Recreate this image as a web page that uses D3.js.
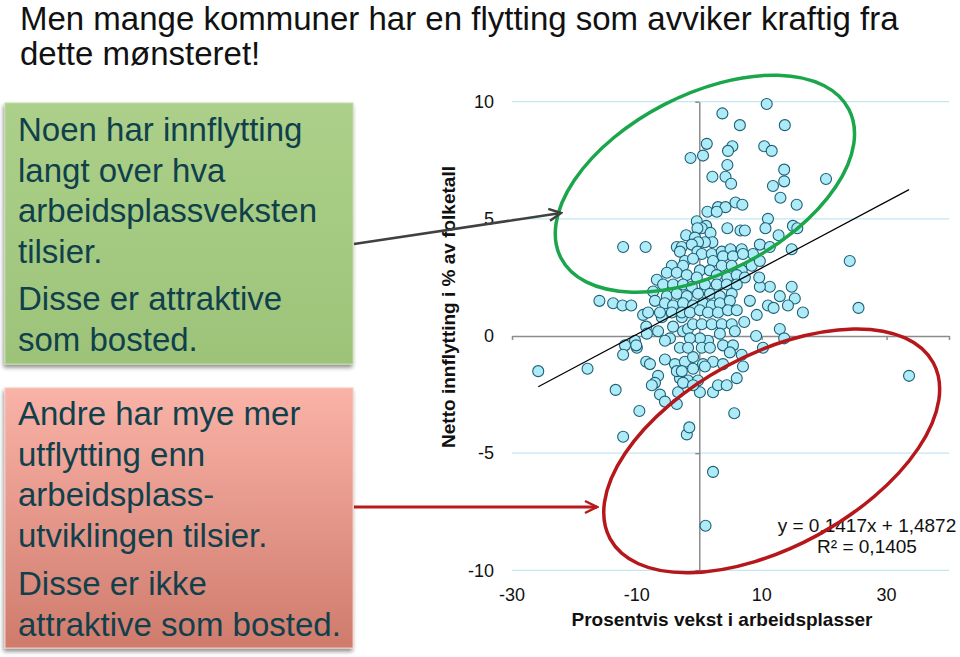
<!DOCTYPE html>
<html lang="no">
<head>
<meta charset="utf-8">
<title>Netto innflytting og arbeidsplassvekst</title>
<script src="https://cdnjs.cloudflare.com/ajax/libs/d3/7.8.5/d3.min.js"></script>
<style>
  body { margin: 0; background: #fff; }
  svg { display: block; font-family: "Liberation Sans", Arial, Helvetica, sans-serif; }
</style>
</head>
<body>
<script>

// --- data ---

// prosentvis vekst i arbeidsplasser (x) per kommune
var growthPct = [
  10.8, 3.7, 6.5, 13.7, 1.2, 5.3, 4.6, 10.4, 11.6, -1.4, 0.6, 4.5, 13.6, 2.1, 4.2, 5.1, 13.6, 11.8, 13.0, 5.8,
  6.9, 3.0, 4.2, 1.3, 2.8, 20.3, 15.6, 15.0, 15.7, 14.8, 24.1, 14.8, 11.0, 10.6, 4.5, 6.6, 7.3, 12.7, 9.7, 11.3,
  25.5, 15.3, 14.2, 16.6, 12.9, 12.9, 13.6, 33.6, 11.0, 11.9, 11.3, 9.7, 9.6, 8.1, 9.2, 9.1, 10.2, 7.2,
  -12.2, -8.6, -16.0, -13.8, -12.3, -10.9, -9.0, -8.5, -10.3, -11.9, -10.0, -10.1, -12.2, -25.8, -17.9, -8.5,
  -13.4, -9.6, -12.2, -2.0, -1.6, 2.2, 1.0, 5.6, -7.9, -6.6, -7.1, -7.6, -6.3, -5.5, -3.6, -3.4, 0.1, 2.2,
  3.0, 4.4, 6.0, -3.1, -1.8, -0.2, -2.6, -1.0, 7.0, 6.8, -5.5, -3.9, -2.3, -1.0, 0.6, 2.2, 3.8, -3.6, -2.8,
  -1.0, 0.9, -8.4, -6.6, -4.7, -4.2, -2.6, -1.8, -1.0, 0.4, 2.0, 3.6, 5.2, -2.8, -6.0, 5.7, 3.3, 1.4, 0.1,
  -1.5, -3.1, -1.8, 0.4, 1.7, 3.8, 5.4, 4.9, -5.5, -0.4, 1.1, 0.4, -0.3, 1.8, -2.1, -0.7, 2.1, 0.9, -0.2,
  -3.6, -2.8, -1.2, -3.1, -0.3, 0.4, 2.0, 3.6, 5.0, 6.8, 8.6, -2.3, -1.0, 2.2, 3.8, 5.4, 7.0, -4.4, -2.6,
  0.1, 1.7, 3.6, 5.2, 6.8, 8.4, 9.7, -5.2, -3.6, -2.0, -0.4, 2.8, 4.5, 6.0, 7.3, -6.8, -5.8, -4.2, -2.6,
  -1.2, 0.9, 2.8, 4.4, 6.0, -7.4, -5.2, -3.6, -2.0, -0.2, 1.7, 3.3, 5.2, -7.1, -5.5, -4.2, -2.6, -1.0, 0.6,
  2.0, 3.3, 4.9, -8.2, -6.3, -4.4, -2.8, -1.5, 0.1, 1.4, 3.0, 4.6, 6.0
];

// netto innflytting i % av folketall (y), same order
var netMigration = [
  9.9, 9.5, 9.0, 9.0, 8.2, 8.1, 7.9, 8.1, 7.9, 7.6, 7.7, 7.3, 7.1, 6.8, 6.8, 6.5, 6.6, 6.4, 5.9, 5.7,
  5.6, 5.5, 5.5, 5.3, 5.3, 6.7, 5.6, 4.7, 4.6, 3.7, 3.2, 2.1, 5.0, 4.6, 4.6, 4.5, 4.5, 4.3, 3.9, 3.8,
  1.2, 1.6, 1.3, 1.0, 1.7, 0.3, -0.1, -1.7, 1.3, 1.2, 2.1, 2.1, 2.5, 1.5, 0.9, 0.0, -0.5, 0.6,
  3.8, 3.8, 1.5, 1.4, 1.3, 1.3, 0.9, 0.4, -0.2, -0.4, -0.5, -0.4, -0.8, -1.5, -1.4, -1.1,
  -2.3, -3.2, -4.3, -4.2, -3.9, -5.8, -8.1, -3.3, -1.2, -1.7, -2.0, -2.1, -2.5, -2.8, -2.9, -2.4, -2.4, -2.4,
  -2.1, -2.1, -1.8, -1.8, -1.9, -1.9, -2.0, -2.1, -1.3, -0.8, -1.0, -1.2, -1.1, -0.9, -1.2, -1.1, -1.2, -1.5, -1.5,
  -1.4, -1.3, 0.1, 0.2, -0.1, 0.4, 0.2, 0.3, 0.5, 0.5, 0.5, 0.5, 0.5, 0.8, 0.8, 0.2, 0.1, -0.2, -0.1,
  -0.1, -0.5, -0.5, -0.5, -0.5, -0.4, -0.4, -0.7, -0.2, 4.9, 4.7, 4.6, 4.6, 4.4, 4.3, 4.2, 4.0, 4.0, 4.0,
  3.8, 3.8, 3.9, 3.6, 3.6, 3.5, 3.5, 3.6, 3.7, 3.7, 3.5, 3.2, 3.3, 3.2, 3.4, 3.4, 3.5, 3.0, 3.0,
  2.8, 2.8, 3.0, 3.0, 2.8, 3.0, 3.2, 2.7, 2.7, 2.6, 2.5, 2.6, 2.5, 2.6, 2.5, 2.4, 2.2, 2.2, 2.2,
  2.1, 2.2, 2.2, 2.2, 2.2, 1.9, 1.7, 1.8, 1.7, 1.8, 1.8, 1.7, 1.8, 1.5, 1.4, 1.3, 1.4, 1.3, 1.4,
  1.3, 1.4, 1.5, 1.0, 1.0, 1.0, 1.0, 1.0, 1.1, 1.0, 1.0, 1.1, 1.1
];

var xTicks = [-30, -10, 10, 30];
var yTicks = [-10, -5, 0, 5, 10];
var trendSlope = 0.1417, trendIntercept = 1.4872;
var trendLabels = ["y = 0,1417x + 1,4872", "R\u00B2 = 0,1405"];

var titleLines = ["Men mange kommuner har en flytting som avviker kraftig fra", "dette m\u00F8nsteret!"];
var greenLines = [["Noen har innflytting", "langt over hva", "arbeidsplassveksten", "tilsier."], ["Disse er attraktive", "som bosted."]];
var redLines = [["Andre har mye mer", "utflytting enn", "arbeidsplass-", "utviklingen tilsier."], ["Disse er ikke", "attraktive som bosted."]];


//
// Setup
//
var svg = d3.select("body")
  .append("svg")
  .attr("width", 960)
  .attr("height", 657);

var defs = svg.append("defs");

var shadow = defs.append("filter").attr("id", "shadow")
  .attr("x", "-10%").attr("y", "-10%").attr("width", "120%").attr("height", "125%");
shadow.append("feDropShadow")
  .attr("dx", -1).attr("dy", 3).attr("stdDeviation", 2)
  .attr("flood-color", "#000").attr("flood-opacity", 0.45);

var addGradient = function(id, top, bottom) {
  var g = defs.append("linearGradient").attr("id", id)
    .attr("x1", 0).attr("y1", 0).attr("x2", 0).attr("y2", 1);
  g.append("stop").attr("offset", "0%").attr("stop-color", top);
  g.append("stop").attr("offset", "100%").attr("stop-color", bottom);
};
addGradient("greenFill", "#acd089", "#9dc379");
addGradient("redFill", "#fab3a7", "#cf7b6c");

var addMarker = function(id, color) {
  defs.append("marker").attr("id", id)
    .attr("markerUnits", "userSpaceOnUse")
    .attr("viewBox", "0 0 16 16")
    .attr("markerWidth", 16).attr("markerHeight", 16)
    .attr("refX", 14).attr("refY", 8)
    .attr("orient", "auto")
    .append("path")
    .attr("d", "M2,2 L14,8 L2,14")
    .attr("fill", "none")
    .attr("stroke", color)
    .attr("stroke-width", 2.5);
};
addMarker("arrowGray", "#404040");
addMarker("arrowRed", "#b71c1c");

var x = d3.scaleLinear().domain([-30, 40]).range([512, 949]);
var y = d3.scaleLinear().domain([-10, 10]).range([570.3, 101.7]);


//
// Title
//
svg.append("g").selectAll("text")
  .data(titleLines)
  .enter()
  .append("text")
  .attr("x", 20)
  .attr("y", function(d, i) { return 30 + i * 35; })
  .attr("font-size", 33)
  .attr("fill", "#111")
  .text(function(d) { return d; });


//
// Chart
//
var plot = svg.append("g");

// gridlines
plot.selectAll("line.grid")
  .data(yTicks.filter(function(d) { return d !== 0; }))
  .enter()
  .append("line")
  .attr("class", "grid")
  .attr("x1", x(-30)).attr("x2", x(40))
  .attr("y1", function(d) { return y(d); })
  .attr("y2", function(d) { return y(d); })
  .attr("stroke", "#c3e7f1")
  .attr("stroke-width", 1.2);

// axes crossing at 0
var yAxis = plot.append("g")
  .attr("transform", "translate(" + x(0) + ",0)")
  .call(d3.axisLeft(y).tickValues(yTicks).tickSize(4).tickSizeOuter(0).tickFormat(""));
var xAxis = plot.append("g")
  .attr("transform", "translate(0," + y(0) + ")")
  .call(d3.axisBottom(x).tickValues(xTicks.concat([40])).tickSize(4).tickSizeOuter(0).tickFormat(""));
[yAxis, xAxis].forEach(function(a) {
  a.selectAll("path, line").attr("stroke", "#8c8c8c").attr("stroke-width", 1.5);
});

// tick labels (placed low / left as in the original)
plot.selectAll("text.ylab")
  .data(yTicks)
  .enter()
  .append("text")
  .attr("x", 494)
  .attr("y", function(d) { return y(d); })
  .attr("dy", "0.35em")
  .attr("text-anchor", "end")
  .attr("font-size", 18)
  .attr("fill", "#111")
  .text(function(d) { return String(d); });

plot.selectAll("text.xlab")
  .data(xTicks)
  .enter()
  .append("text")
  .attr("x", function(d) { return x(d); })
  .attr("y", 601)
  .attr("text-anchor", "middle")
  .attr("font-size", 18)
  .attr("fill", "#111")
  .text(function(d) { return String(d); });

// axis titles
plot.append("text")
  .attr("x", 722).attr("y", 626)
  .attr("text-anchor", "middle")
  .attr("font-size", 19).attr("font-weight", "bold")
  .attr("fill", "#111")
  .text("Prosentvis vekst i arbeidsplasser");

plot.append("text")
  .attr("transform", "translate(455,307) rotate(-90)")
  .attr("text-anchor", "middle")
  .attr("font-size", 19).attr("font-weight", "bold")
  .attr("fill", "#111")
  .text("Netto innflytting i % av folketall");

// points
var points = d3.range(growthPct.length).map(function(i) {
  return { x: growthPct[i], y: netMigration[i] };
});

plot.selectAll("circle")
  .data(points)
  .enter()
  .append("circle")
  .attr("cx", function(d) { return x(d.x); })
  .attr("cy", function(d) { return y(d.y); })
  .attr("r", 5.5)
  .attr("fill", "#aeebf8")
  .attr("stroke", "#1d5f74")
  .attr("stroke-width", 1.1);

// linear trend
var xExt = d3.extent(growthPct);
var trend = d3.line()
  .x(function(d) { return x(d); })
  .y(function(d) { return y(trendSlope * d + trendIntercept); });

plot.append("path")
  .attr("d", trend(xExt))
  .attr("fill", "none")
  .attr("stroke", "#000")
  .attr("stroke-width", 1.2);

plot.selectAll("text.eq")
  .data(trendLabels)
  .enter()
  .append("text")
  .attr("x", 867)
  .attr("y", function(d, i) { return 532 + i * 21; })
  .attr("text-anchor", "middle")
  .attr("font-size", 19)
  .attr("fill", "#111")
  .text(function(d) { return d; });


//
// Annotations: ellipses, boxes, arrows
//
var ellipses = [
  { cx: 0.9, cy: 6.5, rx: 162, ry: 89, angle: -27.3, color: "#1ca64c" },
  { cx: 11.6, cy: -4.9, rx: 184, ry: 96, angle: -28.6, color: "#b5171b" }
];

svg.selectAll("ellipse")
  .data(ellipses)
  .enter()
  .append("ellipse")
  .attr("transform", function(d) {
    return "translate(" + x(d.cx) + "," + y(d.cy) + ") rotate(" + d.angle + ")";
  })
  .attr("rx", function(d) { return d.rx; })
  .attr("ry", function(d) { return d.ry; })
  .attr("fill", "none")
  .attr("stroke", function(d) { return d.color; })
  .attr("stroke-width", 3.5);

var boxes = [
  { y: 103, h: 261, fill: "url(#greenFill)", stroke: "#c4dca8", lines: greenLines, base: 141, gap: 7 },
  { y: 388, h: 260, fill: "url(#redFill)", stroke: "#f7c9c0", lines: redLines, base: 425, gap: 8 }
];

boxes.forEach(function(b) {
  var g = svg.append("g");
  g.append("rect")
    .attr("x", 5).attr("y", b.y)
    .attr("width", 348).attr("height", b.h)
    .attr("fill", b.fill)
    .attr("stroke", b.stroke)
    .attr("stroke-width", 1)
    .attr("filter", "url(#shadow)");

  var yy = b.base;
  b.lines.forEach(function(par, p) {
    if (p > 0) yy += b.gap;
    par.forEach(function(line) {
      g.append("text")
        .attr("x", 18).attr("y", yy)
        .attr("font-size", 33)
        .attr("fill", "#10404c")
        .text(line);
      yy += 40.5;
    });
  });
});

svg.append("line")
  .attr("x1", 354).attr("y1", 244)
  .attr("x2", 561).attr("y2", 213)
  .attr("stroke", "#404040").attr("stroke-width", 2.5)
  .attr("marker-end", "url(#arrowGray)");

svg.append("line")
  .attr("x1", 354).attr("y1", 507)
  .attr("x2", 597).attr("y2", 507)
  .attr("stroke", "#b71c1c").attr("stroke-width", 3)
  .attr("marker-end", "url(#arrowRed)");

</script>
</body>
</html>
